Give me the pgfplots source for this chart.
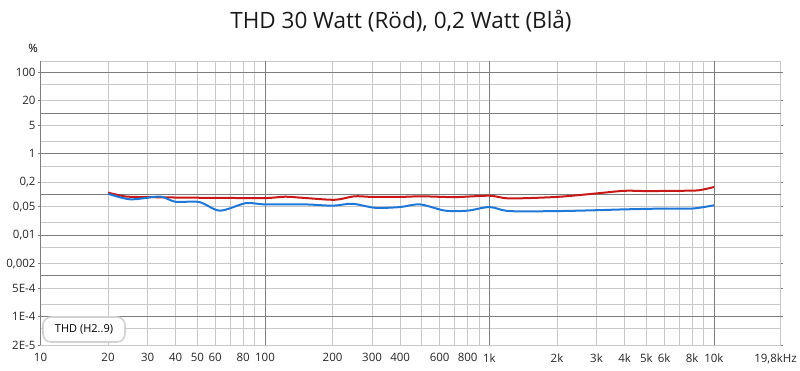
\documentclass[border=0pt]{standalone}
\usepackage{pgfplots}
\pgfplotsset{compat=1.18}
\usepackage{fontspec}
\setmainfont{Open Sans}
\definecolor{redc}{RGB}{200,24,24}
\definecolor{bluec}{RGB}{30,120,215}
\definecolor{gmaj}{RGB}{125,125,125}
\definecolor{gmin}{RGB}{200,200,200}
\begin{document}
\begin{tikzpicture}
\useasboundingbox (-40.5pt,-26pt) rectangle (759.5pt,345pt);
\begin{axis}[
 at={(0,0)}, anchor=south west,
 scale only axis, width=740pt, height=284pt,
 xmode=log, ymode=log, xmin=10, xmax=19800, ymin=2e-5, ymax=190,
 xtick={10,20,30,40,50,60,80,100,200,300,400,600,800,1000,2000,3000,4000,5000,6000,8000,10000,19800},
 xticklabels={10,20,30,40,50,60,80,100,200,300,400,600,800,1k,2k,3k,4k,5k,6k,8k,10k,{\makebox[0pt]{\hspace*{-10pt}19,8kHz}}},
 minor xtick={70,90,500,700,900,7000,9000},
 ytick={100,20,5,1,0.2,0.05,0.01,0.002,5e-4,1e-4,2e-5},
 yticklabels={100,20,5,1,{0,2},{0,05},{0,01},{0,002},5E-4,1E-4,2E-5},
 minor ytick={50,2,0.5,0.02,0.005,2e-4,5e-5},
 extra x ticks={100,1000,10000}, extra x tick labels={},
 extra y ticks={100,10,1,0.1,0.01,0.001,1e-4}, extra y tick labels={},
 extra tick style={grid=major, major grid style={gmaj, line width=0.8pt}, major tick length=0pt},
 grid=both,
 major grid style={gmin, line width=0.8pt},
 minor grid style={gmin, line width=0.8pt},
 minor tick length=0pt,
 xtick style={draw=none},
 ytick style={draw=gmaj, line width=0.6pt},
 tick align=outside, major tick length=2.5pt,
 axis line style={gmin, line width=0.8pt},
 /pgf/number format/assume math mode=true,
 tick label style={font=\fontsize{11.5}{13}\selectfont, text=black!85},
 yticklabel style={xshift=1pt},
 xticklabel style={yshift=-2.5pt},
 clip=true,
]
\addplot[redc, line width=2pt, smooth] coordinates {
(20,0.111) (24,0.089) (30,0.086) (40,0.084) (50,0.083) (70,0.082) (100,0.081)
(123,0.088) (150,0.082) (205,0.074) (250,0.090) (300,0.087) (400,0.087)
(500,0.090) (700,0.086) (1000,0.093) (1230,0.080) (2000,0.087) (3000,0.106)
(4000,0.123) (5000,0.121) (7000,0.123) (8500,0.126) (10000,0.152)
};
\addplot[bluec, line width=2pt, smooth] coordinates {
(20,0.104) (25,0.076) (32,0.087) (35,0.087) (40,0.066) (51,0.065) (63,0.040)
(82,0.061) (100,0.057) (150,0.057) (200,0.053) (245,0.059) (310,0.047)
(400,0.049) (490,0.057) (635,0.040) (800,0.040) (1000,0.049) (1230,0.039)
(2000,0.039) (3000,0.041) (4000,0.043) (6000,0.045) (8000,0.045) (10000,0.054)
};
\end{axis}
\draw[gmaj, line width=1.2pt] (0,0) -- (0,284pt);
\node[font=\fontsize{22.5}{26}\selectfont, text=black!90] at (360.5pt,324pt) {THD 30 Watt (Röd), 0,2 Watt (Blå)};
\node[font=\fontsize{11.5}{13}\selectfont] at (-7.5pt,297pt) {\%};
\node[draw=gray!35, line width=1.6pt, rounded corners=8pt, fill=white, minimum width=82pt, minimum height=25pt, font=\fontsize{11}{13}\selectfont] at (43.5pt,15.5pt) {THD (H2..9)};
\end{tikzpicture}
\end{document}
